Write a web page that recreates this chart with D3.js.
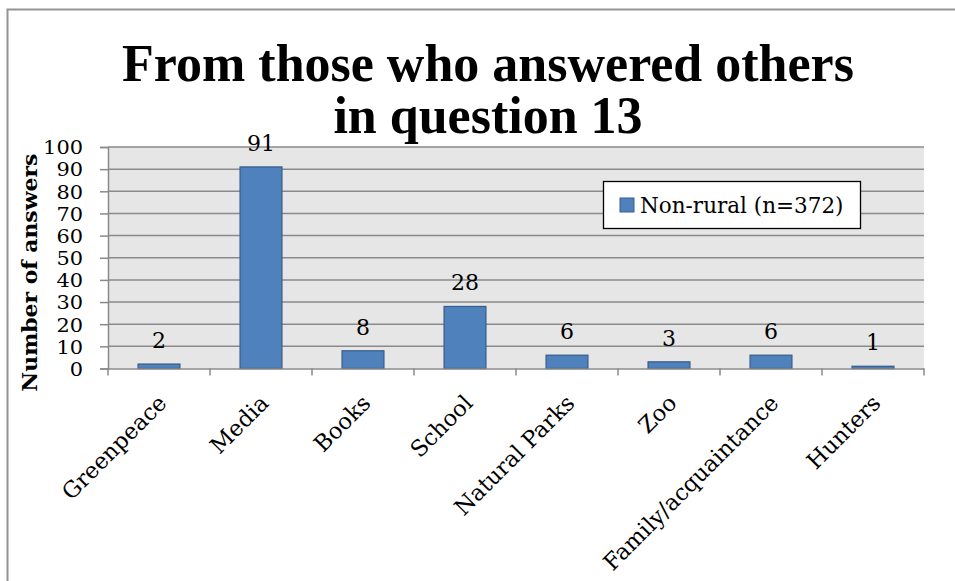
<!DOCTYPE html>
<html><head><meta charset="utf-8">
<script src="https://cdn.jsdelivr.net/npm/d3@7"></script>
<style>body{margin:0;background:#fff;}svg{display:block;}</style>
</head><body>
<svg id="chart" width="955" height="581"></svg>
<script>
const categories = ["Greenpeace","Media","Books","School","Natural Parks","Zoo","Family/acquaintance","Hunters"];
const values = [2,91,8,28,6,3,6,1];
const yTicks = [0,10,20,30,40,50,60,70,80,90,100];
const seriesName = "Non-rural (n=372)";
const titleLines = ["From those who answered others","in question 13"];
const yLabel = "Number of answers";

(function(){
const svg = d3.select("#chart");
const font = "'DejaVu Serif','Liberation Serif',serif";
const tfont = "'Liberation Serif','DejaVu Serif',serif";
const pL = 108, pR = 924, pT = 147, pB = 368.5;

// outer frame
svg.append("rect").attr("x",7.5).attr("y",9.5).attr("width",960).attr("height",600)
  .attr("fill","#fff").attr("stroke","#949494").attr("stroke-width",2);

const x = d3.scaleBand().domain(categories).range([pL,pR]).paddingInner(0.59).paddingOuter(0.295);
const xb = d3.scaleBand().domain(categories).range([pL,pR]);
const y = d3.scaleLinear().domain([0,100]).range([pB,pT]);

svg.append("rect").attr("x",pL).attr("y",pT).attr("width",pR-pL).attr("height",pB-pT).attr("fill","#e6e6e6");

// gridlines
svg.append("g").selectAll("line").data(yTicks.filter(d=>d>0)).join("line")
  .attr("x1",pL).attr("x2",pR).attr("y1",d=>y(d)).attr("y2",d=>y(d))
  .attr("stroke","#8a8a8a").attr("stroke-width",1.5);

// bars
svg.append("g").selectAll("rect").data(values).join("rect")
  .attr("x",(d,i)=>x(categories[i])).attr("width",x.bandwidth())
  .attr("y",d=>y(d)).attr("height",d=>pB-y(d))
  .attr("fill","#4f81bd").attr("stroke","#3a5f8d").attr("stroke-width",1.3);

// y axis
const ya = svg.append("g").attr("transform",`translate(${pL},0)`)
  .call(d3.axisLeft(y).tickValues(yTicks).tickSize(8).tickPadding(17).tickFormat(d3.format("d")));
ya.select(".domain").attr("stroke","#8a8a8a").attr("stroke-width",1.5);
ya.selectAll(".tick line").attr("stroke","#8a8a8a").attr("stroke-width",1.5);
ya.selectAll("text").attr("font-family",font).attr("font-size",19).attr("fill","#000").attr("dy","0.36em")
  .attr("textLength",d=>String(d).length*13.3).attr("lengthAdjust","spacingAndGlyphs");

// x axis
const xa = svg.append("g").attr("transform",`translate(0,${pB})`)
  .call(d3.axisBottom(xb).tickSize(0).tickFormat(""));
xa.select(".domain").attr("stroke","#8a8a8a").attr("stroke-width",1.5);
const bounds = categories.map(c=>xb(c)).concat([pR]);
svg.append("g").selectAll("line").data(bounds).join("line")
  .attr("x1",d=>d).attr("x2",d=>d).attr("y1",pB).attr("y2",pB+7)
  .attr("stroke","#8a8a8a").attr("stroke-width",1.5);

// x labels rotated
svg.append("g").selectAll("text").data(categories).join("text")
  .attr("transform",d=>`translate(${xb(d)+xb.bandwidth()/2+9},${pB+36}) rotate(-45)`)
  .attr("text-anchor","end").attr("font-family",font).attr("font-size",22.5).attr("fill","#000")
  .text(d=>d);

// data labels
svg.append("g").selectAll("text").data(values).join("text")
  .attr("x",(d,i)=>xb(categories[i])+xb.bandwidth()/2).attr("y",d=>y(d)-16)
  .attr("text-anchor","middle").attr("font-family",font).attr("font-size",22).attr("fill","#000")
  .text(d=>d);

// y label
svg.append("text").attr("transform",`translate(37,${(pT+pB)/2+15}) rotate(-90)`)
  .attr("text-anchor","middle").attr("font-family",font).attr("font-size",20).attr("font-weight","bold")
  .attr("textLength",238).attr("lengthAdjust","spacingAndGlyphs")
  .text(yLabel);

// title
svg.append("g").selectAll("text").data(titleLines).join("text")
  .attr("x",488).attr("y",(d,i)=>81+i*52).attr("text-anchor","middle")
  .attr("font-family",tfont).attr("font-size",52).attr("font-weight","bold").text(d=>d);

// legend
const lg = svg.append("g");
lg.append("rect").attr("x",603.5).attr("y",181.5).attr("width",257).attr("height",47)
  .attr("fill","#fff").attr("stroke","#000").attr("stroke-width",1.3);
lg.append("rect").attr("x",620).attr("y",198).attr("width",14).attr("height",14)
  .attr("fill","#4f81bd").attr("stroke","#3a5f8d");
lg.append("text").attr("x",640).attr("y",213).attr("font-family",font).attr("font-size",21.5).text(seriesName);
})();
</script>
</body></html>
